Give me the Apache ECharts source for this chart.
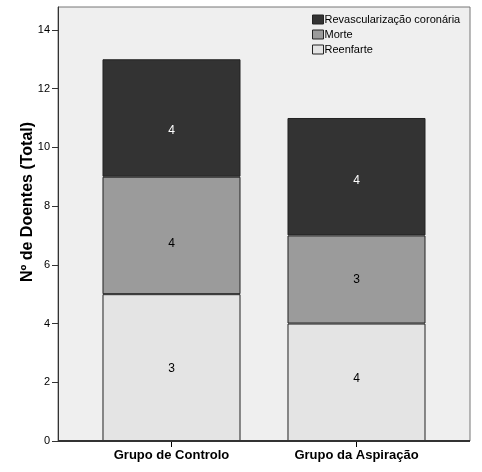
<!DOCTYPE html>
<html>
<head>
<meta charset="utf-8">
<script src="https://cdn.jsdelivr.net/npm/echarts@6/dist/echarts.min.js"></script>
<style>
html,body{margin:0;padding:0;background:#fff;}
#c{width:482px;height:472px;}
</style>
</head>
<body>
<div id="c"></div>
<script>
// ---- data ----
var categories = ['Grupo de Controlo', 'Grupo da Aspiração'];
var seriesNames = ['Reenfarte', 'Morte', 'Revascularização coronária'];
var reenfarte = [5, 4];
var morte = [4, 3];
var revascularizacao = [4, 4];
// printed labels as they appear in the chart
var reenfarteLabels = ['3', '4'];
var morteLabels = ['4', '3'];
var revascLabels = ['4', '4'];
var yTicks = [0, 2, 4, 6, 8, 10, 12, 14];
var yAxisTitle = 'Nº de Doentes (Total)';

// ---- styling ----
var fills = ['#e4e4e4', '#9b9b9b', '#333333'];
var labelColors = ['#000', '#000', '#fff'];
var labelOffsets = [[1, -4], [8, 0], [13, 4]]; // vertical nudges per series/category
var yMax = 14.78;
var font = 'Arial, "Liberation Sans", sans-serif';

var chart = echarts.init(document.getElementById('c'), null, {renderer: 'canvas'});

var values = [reenfarte, morte, revascularizacao];
var labels = [reenfarteLabels, morteLabels, revascLabels];

var series = seriesNames.map(function (name, si) {
  return {
    name: name,
    type: 'bar',
    stack: 'total',
    xAxisIndex: 1,
    yAxisIndex: 1,
    barWidth: '74.6%',
    itemStyle: {color: fills[si], borderColor: '#222', borderWidth: 1},
    emphasis: {disabled: true},
    data: values[si].map(function (v, ci) {
      return {
        value: v,
        label: {
          show: true,
          position: 'inside',
          offset: [0, labelOffsets[si][ci]],
          formatter: labels[si][ci],
          color: labelColors[si],
          fontSize: 12,
          fontFamily: font
        }
      };
    })
  };
});

var option = {
  animation: false,
  backgroundColor: '#ffffff',
  grid: [
    {left: 58, right: 12, top: 7, bottom: 31, show: true, backgroundColor: '#efefef',
     borderColor: '#777', borderWidth: 1, containLabel: false},
    {left: 79, width: 370, top: 7, bottom: 31, containLabel: false}
  ],
  legend: {
    orient: 'vertical',
    left: 307,
    top: 9,
    itemWidth: 11,
    itemHeight: 9,
    itemGap: 4,
    icon: 'rect',
    data: ['Revascularização coronária', 'Morte', 'Reenfarte'],
    textStyle: {fontFamily: font, fontSize: 11, color: '#000', padding: [0, 0, 0, -4]},
    itemStyle: {borderColor: '#222', borderWidth: 1},
    selectedMode: false
  },
  xAxis: [
    {gridIndex: 0, type: 'category', data: categories, show: false},
    {gridIndex: 1, type: 'category', data: categories,
     axisLine: {show: false},
     axisTick: {show: true, alignWithLabel: true, length: 6, lineStyle: {color: '#000'}},
     axisLabel: {fontFamily: font, fontSize: 13, fontWeight: 'bold', color: '#000', margin: 8},
     splitLine: {show: false}}
  ],
  yAxis: [
    {gridIndex: 0, type: 'value', min: 0, max: yMax, interval: 2,
     name: yAxisTitle, nameLocation: 'middle', nameGap: 22, nameMoveOverlap: false,
     nameTextStyle: {fontFamily: font, fontSize: 16, fontWeight: 'bold', color: '#000', padding: [0, 0, 0, 44]},
     axisLine: {show: true, lineStyle: {color: '#333', width: 1}},
     axisTick: {show: true, length: 6, customValues: yTicks, lineStyle: {color: '#333'}},
     axisLabel: {fontFamily: font, fontSize: 11, color: '#000', margin: 8, customValues: yTicks},
     splitLine: {show: false}},
    {gridIndex: 1, type: 'value', min: 0, max: yMax, show: false, splitLine: {show: false}}
  ],
  series: series.concat([{
    type: 'line', xAxisIndex: 0, yAxisIndex: 0, data: [], silent: true,
    markLine: {silent: true, symbol: 'none', label: {show: false},
      lineStyle: {color: '#333', width: 2, type: 'solid'},
      data: [{yAxis: 0}]}
  }])
};
chart.setOption(option);
</script>
</body>
</html>
